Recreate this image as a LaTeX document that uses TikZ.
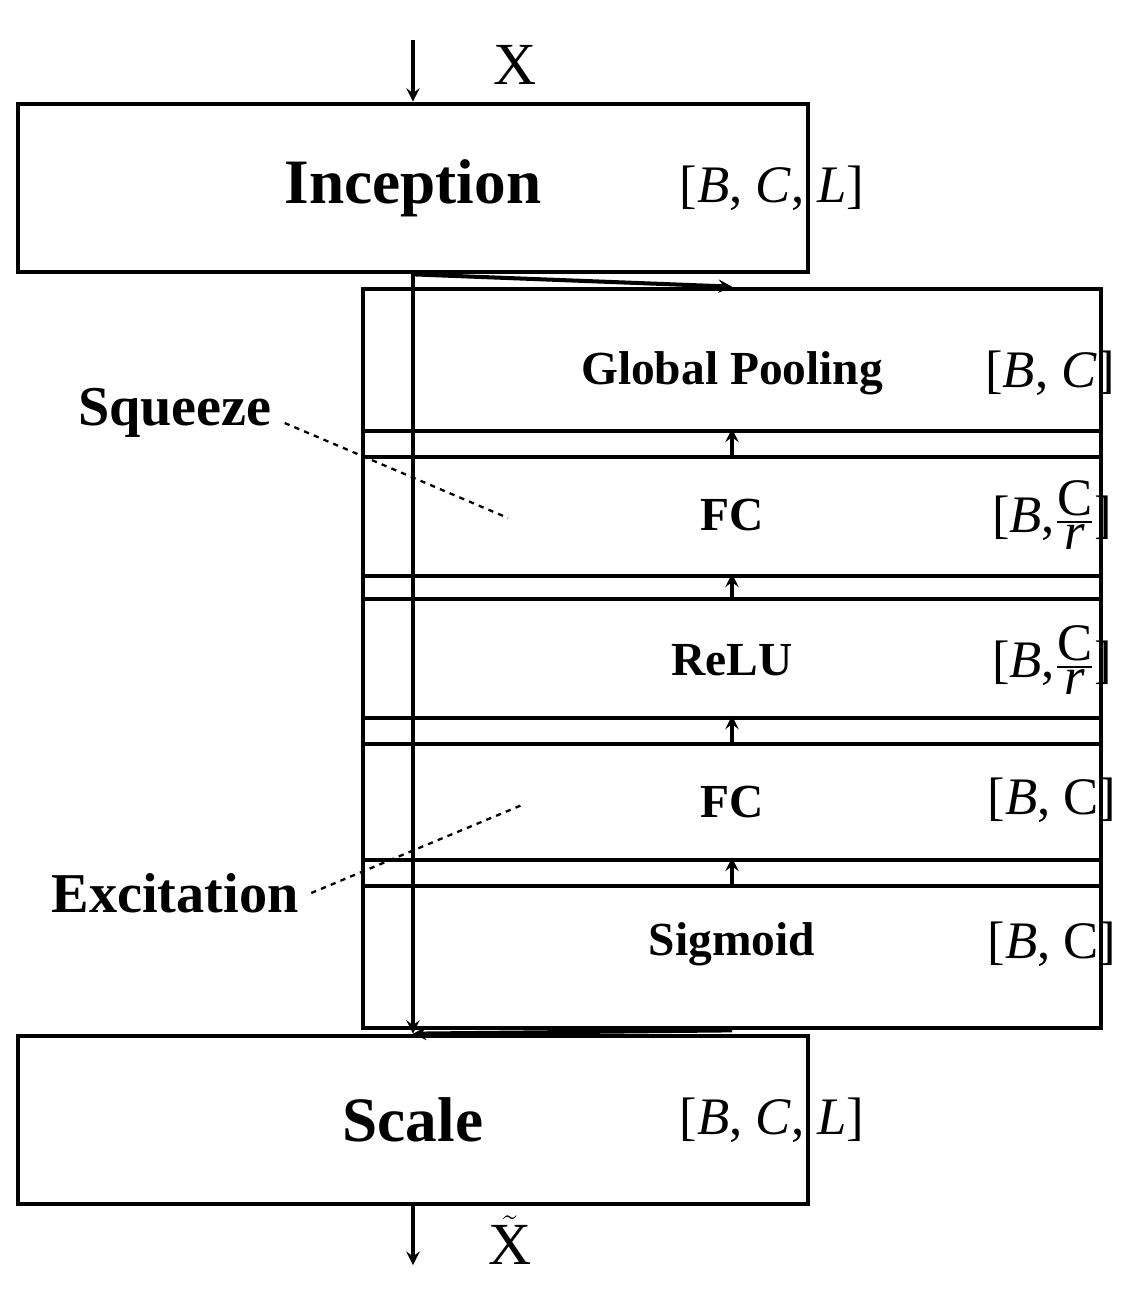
\documentclass[tikz,border=0pt]{standalone}
\usepackage{amsmath}
\usepackage{fontspec}
\setmainfont{Liberation Serif}
\usepackage{tikz}
\usetikzlibrary{arrows, calc, positioning}
\tikzstyle{block} = [rectangle, minimum width=420, minimum height=96, text centered, draw=black, line width=2.3pt, font=\bfseries\fontsize{27}{30}\selectfont]
\tikzstyle{bigblock} = [block, minimum width=450, font=\bfseries\fontsize{36}{40}\selectfont]
\tikzstyle{arrow} = [line width=2.3pt,->,>=stealth]
\tikzstyle{dim} = [font=\fontsize{30}{34}\selectfont]
\tikzstyle{tag} = [font=\bfseries\fontsize{32}{36}\selectfont]
\newcommand{\frc}{\ensuremath{\genfrac{}{}{1pt}{}{\mbox{C}}{\mbox{\itshape r}}}}

\begin{document}
\begin{tikzpicture}[x=0.02cm, y=-0.02cm, line width=2.3pt]
    \useasboundingbox (0,0) rectangle (1146,1299);
    % main path
    \node (Inc) [bigblock] at (413,188) {Inception};
    \node (Scale) [bigblock] at (413,1120) {Scale};
    \coordinate (Start) at (413,40);
    \coordinate (End) at (413,1265);
    \node at (515,65) {\fontsize{34}{38}\selectfont X};
    \node at (510,1240) {\fontsize{34}{38}\selectfont $\tilde{\mbox{X}}$};
    % SE branch
    \node (Pool) [block] at (732,373) {Global Pooling};
    \node (FCa) [block] at (732,515) {FC};
    \node (Relu) [block] at (732,660) {ReLU};
    \node (FCb) [block] at (732,802) {FC};
    \node (Sig) [block] at (732,944) {Sigmoid};
    % dimensions
    \node [dim] at (772,188) {[\textit{B}, \textit{C}, \textit{L}]};
    \node [dim] at (1050,373) {[\textit{B}, \textit{C}]};
    \node [dim] at (1052,515) {[\textit{B},\frc]};
    \node [dim] at (1052,660) {[\textit{B},\frc]};
    \node [dim] at (1052,800) {[\textit{B}, C]};
    \node [dim] at (1052,944) {[\textit{B}, C]};
    \node [dim] at (772,1120) {[\textit{B}, \textit{C}, \textit{L}]};
    % tags
    \node (Sq) [tag] at (175,413) {Squeeze};
    \node (Ex) [tag] at (175,893) {Excitation};
    \draw [dashed, line width=1.3pt] (Sq.east) ++(5,10) -- (508,518);
    \draw [dashed, line width=1.3pt] (Ex.east) ++(5,0) -- (522,805);
    % arrows
    \draw [arrow] (Start) -- (Inc);
    \draw [arrow] (Inc) -- (Scale);
    \draw [arrow] (Inc.south) -- (Pool.north);
    \draw [arrow] (Pool) -- (FCa);
    \draw [arrow] (FCa) -- (Relu);
    \draw [arrow] (Relu) -- (FCb);
    \draw [arrow] (FCb) -- (Sig);
    \draw [arrow] (Sig.south) -- (Scale.north);
    \draw [arrow] (Scale) -- (End);
\end{tikzpicture}
\end{document}
